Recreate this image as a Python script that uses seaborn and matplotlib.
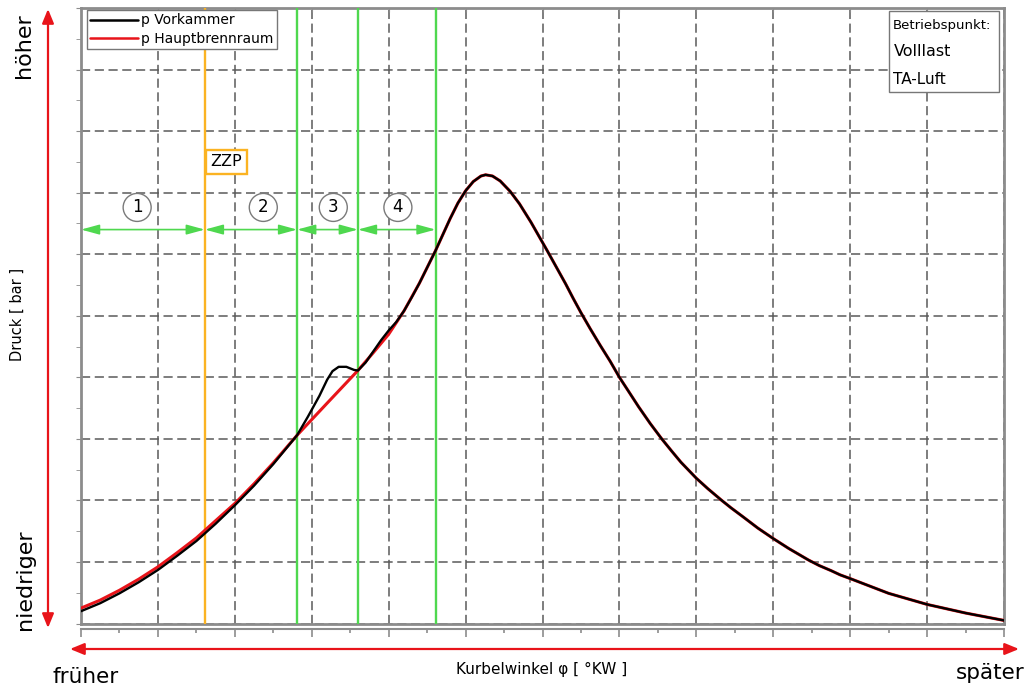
import numpy as np
import pandas as pd
import matplotlib
matplotlib.use("Agg")
import matplotlib.pyplot as plt
import seaborn as sns
from matplotlib.patches import FancyArrowPatch, Rectangle
from matplotlib.lines import Line2D

# Crank angle positions (grid units) and pressure (grid units) of both chambers
angle_hauptbrennraum = [0.0, 0.25, 0.5, 0.75, 1.0, 1.25, 1.5, 1.75, 2.0, 2.25, 2.5, 2.81,
                        3.2, 3.6, 3.8, 4.0, 4.2, 4.4, 4.61, 4.8, 4.9, 5.0, 5.1, 5.2, 5.26,
                        5.35, 5.45, 5.58, 5.7, 5.85, 6.06, 6.18, 6.3, 6.4, 6.5, 6.62, 6.75,
                        6.88, 7.0, 7.12, 7.25, 7.4, 7.55, 7.68, 7.8, 7.9, 8.0, 8.15, 8.33,
                        8.45, 8.6, 8.8, 9.0, 9.2, 9.46, 9.6, 9.75, 9.87, 10.0, 10.25, 10.5,
                        10.75, 11.0, 11.25, 11.5, 11.75, 12.0]
p_hauptbrennraum = [0.25, 0.38, 0.54, 0.72, 0.92, 1.15, 1.39, 1.67, 1.95, 2.27, 2.61, 3.06,
                    3.58, 4.11, 4.40, 4.70, 5.08, 5.53, 6.06, 6.58, 6.83, 7.03, 7.18, 7.27, 7.29,
                    7.27, 7.19, 7.02, 6.82, 6.52, 6.06, 5.79, 5.52, 5.28, 5.05, 4.79, 4.52,
                    4.26, 4.00, 3.77, 3.52, 3.25, 3.00, 2.80, 2.62, 2.49, 2.36, 2.19, 2.00,
                    1.88, 1.74, 1.55, 1.38, 1.22, 1.03, 0.94, 0.86, 0.79, 0.73, 0.61, 0.49,
                    0.40, 0.31, 0.24, 0.17, 0.11, 0.05]

angle_vorkammer = [0.0, 0.25, 0.5, 0.75, 1.0, 1.25, 1.5, 1.75, 2.0, 2.25, 2.5, 2.81,
                   2.95, 3.1, 3.2, 3.27, 3.35, 3.45, 3.55, 3.6, 3.7, 3.8, 3.9, 4.0, 4.1,
                   4.2, 4.3, 4.4, 4.61, 4.8, 4.9, 5.0, 5.1, 5.2, 5.26,
                   5.35, 5.45, 5.58, 5.7, 5.85, 6.06, 6.18, 6.3, 6.4, 6.5, 6.62, 6.75,
                   6.88, 7.0, 7.12, 7.25, 7.4, 7.55, 7.68, 7.8, 7.9, 8.0, 8.15, 8.33,
                   8.45, 8.6, 8.8, 9.0, 9.2, 9.46, 9.6, 9.75, 9.87, 10.0, 10.25, 10.5,
                   10.75, 11.0, 11.25, 11.5, 11.75, 12.0]
p_vorkammer = [0.20, 0.33, 0.49, 0.67, 0.87, 1.10, 1.34, 1.62, 1.92, 2.24, 2.59, 3.06,
               3.36, 3.70, 3.96, 4.10, 4.17, 4.17, 4.12, 4.11, 4.24, 4.42, 4.60, 4.76, 4.90,
               5.08, 5.30, 5.53, 6.06, 6.58, 6.83, 7.03, 7.18, 7.27, 7.29,
               7.27, 7.19, 7.02, 6.82, 6.52, 6.06, 5.79, 5.52, 5.28, 5.05, 4.79, 4.52,
               4.26, 4.00, 3.77, 3.52, 3.25, 3.00, 2.80, 2.62, 2.49, 2.36, 2.19, 2.00,
               1.88, 1.74, 1.55, 1.38, 1.22, 1.03, 0.94, 0.86, 0.79, 0.73, 0.61, 0.49,
               0.40, 0.31, 0.24, 0.17, 0.11, 0.05]

# Ignition timing and phase boundaries
zzp_angle = 1.61
phase_bounds = [0.0, 1.61, 2.81, 3.60, 4.61]
phase_names = ["1", "2", "3", "4"]
series_names = ["p Vorkammer", "p Hauptbrennraum"]
info_lines = ["Betriebspunkt:", "Volllast", "TA-Luft"]

RED = "#e8141a"
GREEN = "#4fd84f"
ORANGE = "#fbb322"
GRID = "#5a5a5a"
FRAME = "#8c8c8c"

sns.set_style("white")
plt.rcParams["font.family"] = ["DejaVu Sans"]
plt.rcParams["text.color"] = "black"

W, H = 1028, 688
def fx(px):
    return px / W
def fy(py):
    return 1 - py / H

fig = plt.figure(figsize=(W / 100, H / 100), dpi=100)
ax = fig.add_axes([fx(81), fy(623.5), (1004 - 81) / W, (623.5 - 8) / H])

df_hbr = pd.DataFrame({"angle": angle_hauptbrennraum, "p": p_hauptbrennraum})
df_vk = pd.DataFrame({"angle": angle_vorkammer, "p": p_vorkammer})
sns.lineplot(data=df_hbr, x="angle", y="p", ax=ax, color=RED, lw=2.2,
             estimator=None, sort=False, legend=False, zorder=4,
             solid_joinstyle="round", solid_capstyle="round")
sns.lineplot(data=df_vk, x="angle", y="p", ax=ax, color="black", lw=1.7,
             estimator=None, sort=False, legend=False, zorder=5,
             solid_joinstyle="round", solid_capstyle="round")

ax.set_xlim(0, 12)
ax.set_ylim(0, 10)
ax.set_xlabel("")
ax.set_ylabel("")
ax.set_xticks(range(13))
ax.set_xticks(np.arange(0.5, 12, 1), minor=True)
ax.set_yticks(range(11))
ax.set_yticks(np.arange(0.5, 10, 1), minor=True)
ax.set_axisbelow(True)
ax.grid(True, which="major", linestyle=(0, (6, 3)), color=GRID, lw=1.1)
ax.tick_params(axis="x", which="major", bottom=False, top=True, direction="in",
               length=3, color=FRAME, labelbottom=False)
ax.tick_params(axis="x", which="minor", bottom=False, top=False)
ax.tick_params(axis="y", which="both", left=True, right=False, direction="out",
               length=3.5, color=FRAME, labelleft=False)
for sp in ax.spines.values():
    sp.set_color(FRAME)
    sp.set_linewidth(2.0)

# separate tick line under the plot frame
sec = ax.secondary_xaxis(-0.0085)
sec.set_xticks(range(13))
sec.set_xticks(np.arange(0.5, 12, 1), minor=True)
sec.tick_params(axis="x", which="major", length=6, direction="out", color=FRAME,
                labelbottom=False, width=1.2)
sec.tick_params(axis="x", which="minor", length=3, direction="out", color=FRAME, width=1.2)
sec.spines["bottom"].set_color(FRAME)
sec.spines["bottom"].set_linewidth(1.5)

# ignition and phase boundary markers
ax.axvline(zzp_angle, color=ORANGE, lw=1.7, zorder=3)
for b in phase_bounds[2:]:
    ax.axvline(b, color=GREEN, lw=1.7, zorder=3)

for a, b in zip(phase_bounds[:-1], phase_bounds[1:]):
    ax.annotate("", xy=(b, 6.40), xytext=(a, 6.40),
                arrowprops=dict(arrowstyle="<|-|>,head_length=1.1,head_width=0.3",
                                color=GREEN, lw=1.2, shrinkA=0, shrinkB=0,
                                mutation_scale=10), zorder=3)

for xpos, name in zip([0.73, 2.37, 3.28, 4.12], phase_names):
    ax.text(xpos, 6.76, name, ha="center", va="center", fontsize=12, zorder=6,
            bbox=dict(boxstyle="circle,pad=0.3", fc="white", ec="#7a7a7a", lw=1.0))

ax.text(zzp_angle + 5.5 / 76.9, 7.5, "ZZP", ha="left", va="center", fontsize=11.5, zorder=6,
        bbox=dict(boxstyle="square,pad=0.3", fc="white", ec=ORANGE, lw=1.7))

handles = [Line2D([], [], color="black", lw=1.8), Line2D([], [], color=RED, lw=1.8)]
leg = ax.legend(handles, series_names, loc="upper left",
                bbox_to_anchor=(6 / 923, 1 - 2 / 615), borderaxespad=0, frameon=True,
                fancybox=False, edgecolor="#777777", framealpha=1, fontsize=10,
                handlelength=3.4, handletextpad=0.25, labelspacing=0.3, borderpad=0.25)
leg.get_frame().set_linewidth(1.0)
leg.set_zorder(7)

# operating point box
fig.add_artist(Rectangle((fx(889), fy(92)), (999 - 889) / W, (92 - 11) / H,
                         transform=fig.transFigure, fc="white", ec="#777777", lw=1.0, zorder=5))
fig.text(fx(893), fy(25), info_lines[0], fontsize=9.5, va="center", ha="left", zorder=6)
fig.text(fx(894), fy(52), info_lines[1], fontsize=11.5, va="center", ha="left", zorder=6)
fig.text(fx(893), fy(79), info_lines[2], fontsize=11, va="center", ha="left", zorder=6)

# direction hints outside the plot
fig.text(fx(24), fy(46), "höher", rotation=90, fontsize=16, ha="center", va="center")
fig.text(fx(25), fy(580), "niedriger", rotation=90, fontsize=16, ha="center", va="center")
fig.text(fx(17), fy(314), "Druck [ bar ]", rotation=90, fontsize=10.5, ha="center", va="center")
fig.text(fx(86), fy(677), "früher", fontsize=15.5, ha="center", va="center")
fig.text(fx(990), fy(673), "später", fontsize=15.5, ha="center", va="center")
fig.text(fx(542), fy(669), "Kurbelwinkel φ [ °KW ]", fontsize=11, ha="center", va="center")

fig.add_artist(FancyArrowPatch((fx(48), fy(628)), (fx(48), fy(9)), transform=fig.transFigure,
                               arrowstyle="<|-|>,head_length=0.85,head_width=0.35",
                               mutation_scale=10, color=RED, lw=1.6, shrinkA=0, shrinkB=0))
fig.add_artist(FancyArrowPatch((fx(70), fy(649)), (fx(1019), fy(649)), transform=fig.transFigure,
                               arrowstyle="<|-|>,head_length=0.85,head_width=0.35",
                               mutation_scale=10, color=RED, lw=1.6, shrinkA=0, shrinkB=0))

fig.savefig("out.png", dpi=100, facecolor="white")
